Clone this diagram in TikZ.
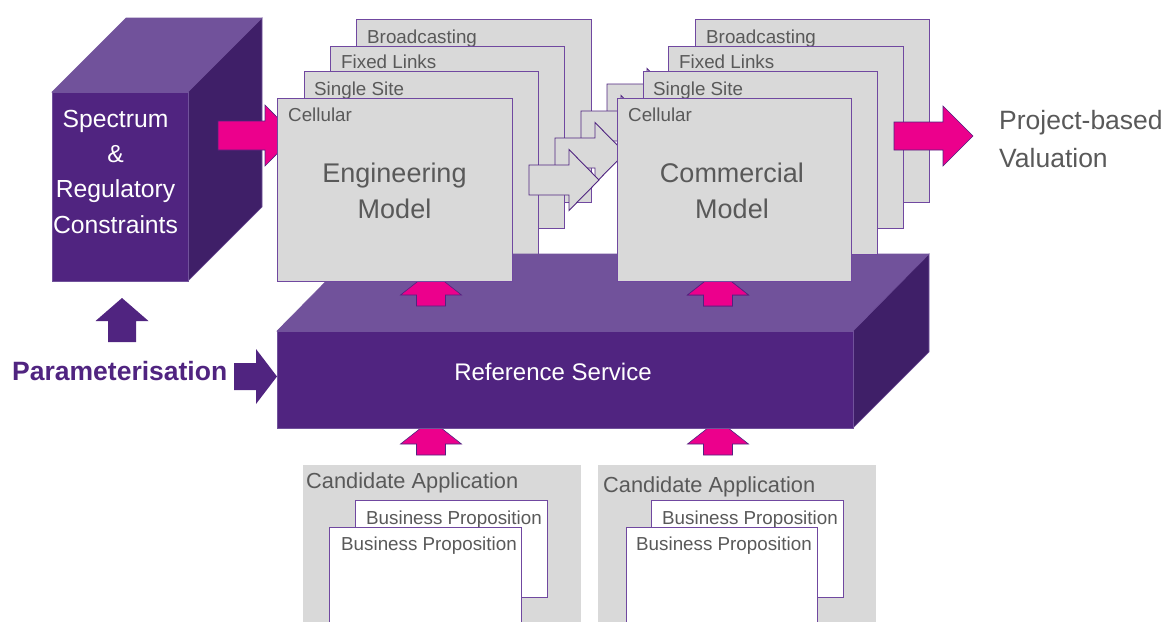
\documentclass[tikz,border=0pt]{standalone}
\usepackage{fontspec}
\setmainfont{Liberation Sans}
\definecolor{pfront}{RGB}{80,36,128}
\definecolor{ptop}{RGB}{113,82,155}
\definecolor{pside}{RGB}{63,31,104}
\definecolor{hotpink}{RGB}{236,0,140}
\definecolor{boxgray}{RGB}{217,217,217}
\definecolor{edgepurple}{RGB}{112,72,160}
\definecolor{arrpurple}{RGB}{80,36,128}
\definecolor{txtgray}{RGB}{89,89,89}
\begin{document}
\begin{tikzpicture}[x=1pt,y=-1pt,
  layer/.style={fill=boxgray,draw=edgepurple,line width=0.9pt},
  bpbox/.style={fill=white,draw=edgepurple,line width=0.9pt},
  lbl/.style={anchor=base west,inner sep=0pt,text=txtgray,font=\fontsize{18.8}{22}\selectfont},
  cand/.style={anchor=base west,inner sep=0pt,text=txtgray,font=\fontsize{21.8}{26}\selectfont},
  big/.style={anchor=base,inner sep=0pt,text=txtgray,font=\fontsize{27}{31}\selectfont},
  proj/.style={anchor=base west,inner sep=0pt,text=txtgray,font=\fontsize{26.5}{31}\selectfont},
  wt/.style={anchor=base,inner sep=0pt,text=white,font=\fontsize{24.7}{29}\selectfont},
  pinkarr/.style={fill=hotpink,draw=arrpurple,line width=0.6pt,line join=miter},
  hollow/.style={fill=boxgray,draw=arrpurple,line width=0.9pt,line join=miter},
  purparr/.style={fill=pfront},
  fface/.style={fill=pfront,draw=ptop,line width=0.6pt},
  tface/.style={fill=ptop,draw=ptop,line width=0.6pt},
  sface/.style={fill=pside,draw=ptop,line width=0.6pt}]
\useasboundingbox (0,0) rectangle (1167,621);
\clip (0,0) rectangle (1167,621);

% ---- left cube: Spectrum & Regulatory Constraints
\filldraw[tface] (52,92) -- (126,18) -- (262,18) -- (188,92) -- cycle;
\filldraw[sface] (188,92) -- (262,18) -- (262,207) -- (188,281) -- cycle;
\filldraw[fface] (52,92) rectangle (188,281);
\node[wt] (c1) at (115.5,127) {Spectrum};
\node[wt] (c2) at (115.5,162) {\&};
\node[wt] (c3) at (115.5,197) {Regulatory};
\node[wt] (c4) at (115.5,233) {Constraints};

% pink arrow into engineering model
\filldraw[pinkarr] (218,121) -- (265,121) -- (265,105) -- (295,135.5) -- (265,166) -- (265,150) -- (218,150) -- cycle;

% ---- engineering back layers
\filldraw[layer] (356,19) rectangle (591,202);
\node[lbl] (eb) at (367,43) {Broadcasting};
\filldraw[layer] (330,46) rectangle (564,228);
\node[lbl] (ef) at (341,68) {Fixed Links};
\filldraw[layer] (304,71) rectangle (538,254);
\node[lbl] (es) at (314,95) {Single Site};

% ---- pink arrows from below into the reference service (tips hidden)
\foreach \c in {431,718}{
  \filldraw[pinkarr] (\c,420) -- ({\c+30.5},444) -- ({\c+14.5},444) -- ({\c+14.5},455)
    -- ({\c-14.5},455) -- ({\c-14.5},444) -- ({\c-30.5},444) -- cycle;
}

% ---- reference service block
\filldraw[tface] (277,331) -- (353,254) -- (929,254) -- (853,331) -- cycle;
\filldraw[sface] (853,331) -- (929,254) -- (929,352) -- (853,428) -- cycle;
\filldraw[fface] (277,331) rectangle (853,428);
\node[wt,font=\fontsize{24}{28}\selectfont] (rs) at (553,380) {Reference Service};

% ---- pink up arrows into the models (tips hidden)
\foreach \c in {431,718}{
  \filldraw[pinkarr] (\c,271) -- ({\c+30.5},295) -- ({\c+14.5},295) -- ({\c+14.5},306)
    -- ({\c-14.5},306) -- ({\c-14.5},295) -- ({\c-30.5},295) -- cycle;
}

% ---- engineering front layer
\filldraw[layer] (277,98) rectangle (512,281);
\node[lbl] (ec) at (288,121) {Cellular};
\node[big] (em1) at (394.5,182) {Engineering};
\node[big] (em2) at (394.5,218) {Model};

% ---- hollow arrows engineering -> commercial
\foreach \k in {3,2,1,0}{
  \begin{scope}[shift={({26*\k},{-27*\k})}]
    \filldraw[hollow] (529,165) -- (569,165) -- (569,149.5) -- (599,180) -- (569,210.5) -- (569,195) -- (529,195) -- cycle;
  \end{scope}
}

% ---- commercial layers
\filldraw[layer] (695,19) rectangle (929,202);
\node[lbl] (cb) at (706,43) {Broadcasting};
\filldraw[layer] (668,46) rectangle (903,228);
\node[lbl] (cf) at (679,68) {Fixed Links};
\filldraw[layer] (643,71) rectangle (877,254);
\node[lbl] (cs) at (653,95) {Single Site};
\filldraw[pinkarr] (718,271) -- (748.5,295) -- (732.5,295) -- (732.5,306) -- (703.5,306) -- (703.5,295) -- (687.5,295) -- cycle;
\filldraw[layer] (617,98) rectangle (851,281);
\node[lbl] (cc) at (628,121) {Cellular};
\node[big] (cm1) at (732,182) {Commercial};
\node[big] (cm2) at (732,218) {Model};

% ---- output arrow and valuation
\filldraw[pinkarr] (894,122) -- (943,122) -- (943,106) -- (973,136) -- (943,166) -- (943,150) -- (894,150) -- cycle;
\node[proj] (pv1) at (999,129) {Project-based};
\node[proj] (pv2) at (999,167) {Valuation};

% ---- parameterisation
\node[anchor=base west,inner sep=0pt,text=pfront,font=\fontsize{26.5}{31}\selectfont\bfseries] (par) at (12,380) {Parameterisation};
\fill[purparr] (122,298) -- (148.5,321) -- (136,321) -- (136,342) -- (108,342) -- (108,321) -- (95.5,321) -- cycle;
\fill[purparr] (234,363) -- (256,363) -- (256,349) -- (277,376.5) -- (256,404) -- (256,390) -- (234,390) -- cycle;

% ---- candidate applications
\fill[boxgray] (303,465) rectangle (581,630);
\fill[boxgray] (598,465) rectangle (876,630);
\node[cand] (ca1) at (306,488) {Candidate Application};
\node[cand] (ca2) at (603,492) {Candidate Application};
\filldraw[bpbox] (355,500) rectangle (547,597);
\node[lbl] (bp1b) at (366,524) {Business Proposition};
\filldraw[bpbox] (329,527) rectangle (521,630);
\node[lbl] (bp1f) at (341,550) {Business Proposition};
\filldraw[bpbox] (651,500) rectangle (843,597);
\node[lbl] (bp2b) at (662,524) {Business Proposition};
\filldraw[bpbox] (626,527) rectangle (817,630);
\node[lbl] (bp2f) at (636,550) {Business Proposition};
\end{tikzpicture}
\end{document}
